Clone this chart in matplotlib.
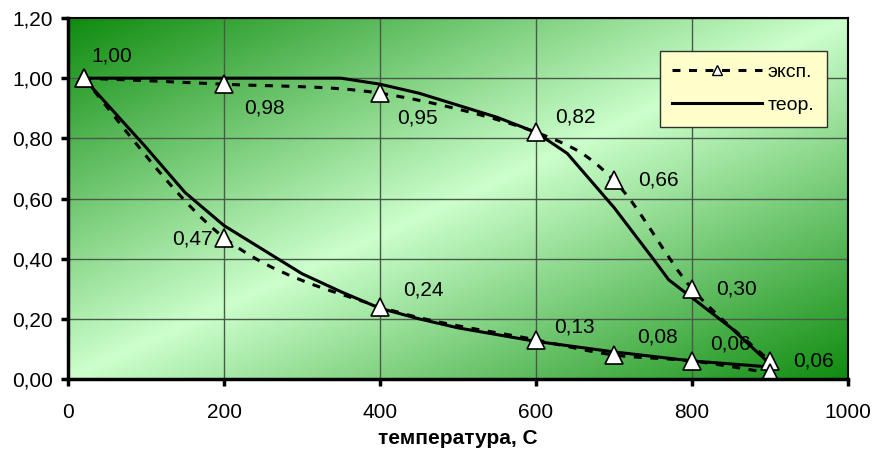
import matplotlib

matplotlib.use("Agg")
import matplotlib.pyplot as plt
import numpy as np
from matplotlib.colors import LinearSegmentedColormap
from matplotlib.lines import Line2D
from matplotlib.patches import PathPatch
from matplotlib.path import Path
from matplotlib.ticker import FuncFormatter, MultipleLocator

plt.rcParams["font.family"] = ["Liberation Sans", "DejaVu Sans"]

# ── Data ─────────────────────────────────────────────────────────────────────
exp_x = [20, 200, 400, 600, 700, 800, 900]
exp_upper = [1.00, 0.98, 0.95, 0.82, 0.66, 0.30, 0.06]
exp_lower = [1.00, 0.47, 0.24, 0.13, 0.08, 0.06, 0.02]
labels_upper = ["1,00", "0,98", "0,95", "0,82", "0,66", "0,30", "0,06"]
labels_lower = [None, "0,47", "0,24", "0,13", "0,08", "0,06", None]

theor_upper_x = [20, 100, 200, 300, 350, 400, 450, 500, 550, 600, 640, 700, 750, 770, 800, 850, 900]
theor_upper = [1.00, 1.00, 1.00, 1.00, 1.00, 0.98, 0.95, 0.91, 0.87, 0.82, 0.75, 0.57, 0.40, 0.33, 0.27, 0.17, 0.05]
theor_lower_x = [20, 100, 150, 200, 250, 300, 350, 400, 450, 500, 600, 700, 800, 900]
theor_lower = [1.00, 0.77, 0.62, 0.51, 0.43, 0.35, 0.29, 0.235, 0.20, 0.17, 0.125, 0.09, 0.06, 0.04]

# label offsets (points) relative to each marker
off_upper = [(20, 16), (29, -17), (27, -18), (28, 11), (32, 0), (32, 0), (31, 0)]
off_lower = [None, (-23, -1), (31, 12), (28, 9), (31, 13), (28, 12), None]

DASH = (0, (2.6, 2.8))


def smooth_path(xs, ys):
    """Excel-like smoothed line as a cubic Bezier path through the points."""
    pts = np.column_stack([xs, ys]).astype(float)
    n = len(pts)
    verts = [pts[0]]
    codes = [Path.MOVETO]
    for i in range(n - 1):
        p0 = pts[max(i - 1, 0)]
        p1 = pts[i]
        p2 = pts[i + 1]
        p3 = pts[min(i + 2, n - 1)]
        c1 = p1 + (p2 - p0) / 6
        c2 = p2 - (p3 - p1) / 6
        verts += [c1, c2, p2]
        codes += [Path.CURVE4] * 3
    return Path(verts, codes)


fig = plt.figure(figsize=(8.73, 4.49), dpi=100)
ax = fig.add_axes([0.0779, 0.1559, 0.8935, 0.804])
ax.set_xlim(0, 1000)
ax.set_ylim(0, 1.2)

# diagonal gradient background
dark = "#108c10"
light = "#ccffcc"
cmap = LinearSegmentedColormap.from_list("bg", [dark, light, dark])
u = np.linspace(0, 1, 400)
v = np.linspace(1, 0, 200)
U, V = np.meshgrid(u, v)
T = (U + (1 - V)) / 2
ax.imshow(T, cmap=cmap, vmin=0, vmax=1, extent=[0, 1, 0, 1],
          transform=ax.transAxes, aspect="auto", zorder=0)

ax.grid(True, color="#4a5a4a", linewidth=1.0, zorder=1)
ax.set_axisbelow(False)
ax.xaxis.set_major_locator(MultipleLocator(200))
ax.yaxis.set_major_locator(MultipleLocator(0.2))
ax.yaxis.set_major_formatter(FuncFormatter(lambda v, _: f"{v:.2f}".replace(".", ",")))
ax.tick_params(direction="out", length=5, width=2.5, labelsize=15, color="black")
ax.tick_params(axis="x", pad=12)
ax.tick_params(axis="y", pad=6)
for side in ["left", "bottom"]:
    ax.spines[side].set_linewidth(2.5)
for side in ["top", "right"]:
    ax.spines[side].set_linewidth(1.5)
for sp in ax.spines.values():
    sp.set_zorder(5)

# theoretical curves
ax.plot(theor_upper_x, theor_upper, color="black", lw=2.2, zorder=3)
ax.plot(theor_lower_x, theor_lower, color="black", lw=2.2, zorder=3)

# experimental curves (smoothed, dashed)
for ys in (exp_upper, exp_lower):
    ax.add_patch(PathPatch(smooth_path(exp_x, ys), fill=False, edgecolor="black",
                           lw=2.2, linestyle=DASH, zorder=3))
    ax.plot(exp_x, ys, linestyle="none", marker="^", ms=13, mfc="white",
            mec="black", mew=1.2, zorder=4)

# data labels
for ys, labs, offs in ((exp_upper, labels_upper, off_upper), (exp_lower, labels_lower, off_lower)):
    for xv, yv, lab, off in zip(exp_x, ys, labs, offs):
        if lab is None:
            continue
        ax.annotate(lab, (xv, yv), xytext=off, textcoords="offset points",
                    ha="center", va="center", fontsize=15, zorder=3.5)

ax.set_xlabel("температура, С", fontsize=15, fontweight="bold", labelpad=5)

handles = [
    Line2D([], [], color="black", lw=2.2, linestyle=DASH, marker="^", ms=7,
           mfc="white", mec="black", mew=1.0),
    Line2D([], [], color="black", lw=2.2),
]
leg = ax.legend(handles, ["эксп.", "теор."], loc="upper right",
                bbox_to_anchor=(0.973, 0.909), borderaxespad=0, fontsize=14,
                handlelength=4.6, frameon=True, fancybox=False, framealpha=1,
                facecolor="#ffffcc", edgecolor="#303030", borderpad=0.65,
                labelspacing=0.8, handletextpad=0.3)
leg.get_frame().set_linewidth(1.0)
leg.set_zorder(6)

fig.savefig("out.png", dpi=100)
